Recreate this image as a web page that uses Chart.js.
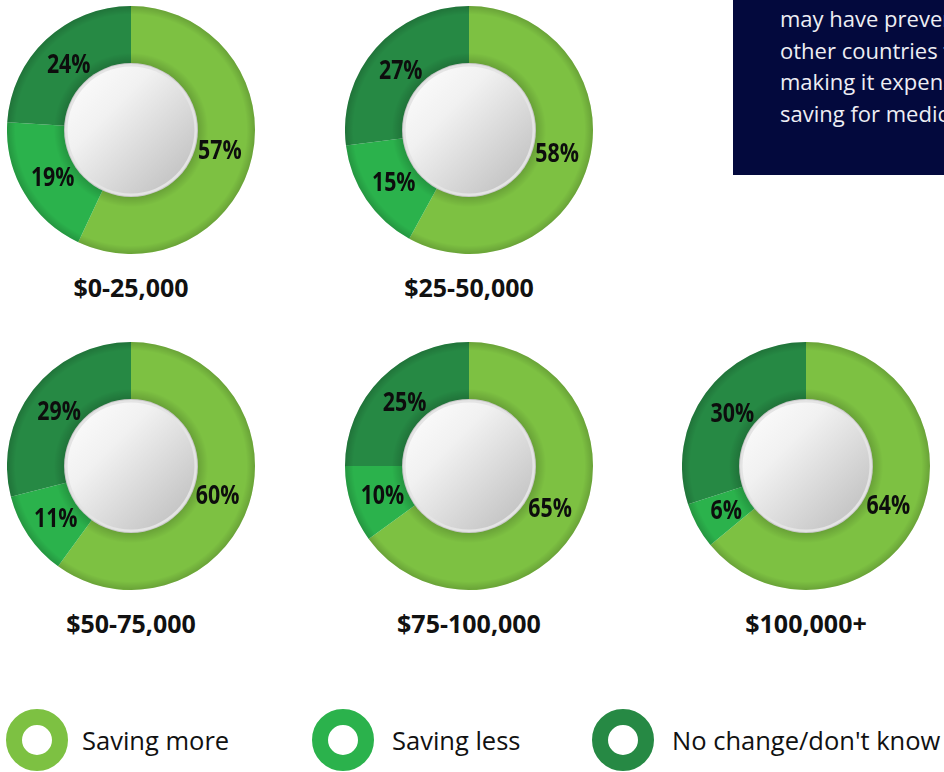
<!DOCTYPE html>
<html>
<head>
<meta charset="utf-8">
<script src="https://cdn.jsdelivr.net/npm/chart.js@4.4.1/dist/chart.umd.min.js"></script>
<style>
  html, body { margin: 0; padding: 0; background: #ffffff; }
  body { width: 944px; height: 772px; position: relative; overflow: hidden; font-family: "Open Sans", sans-serif; }
  canvas.donut { position: absolute; }
  .title { position: absolute; width: 260px; text-align: center; font-weight: 700; font-size: 25px; color: #111; line-height: 30px; }
  .box { position: absolute; left: 733px; top: 0; width: 211px; height: 175px; background: #03093d; overflow: hidden; }
  .box div { position: absolute; left: 47px; white-space: nowrap; color: #eeeef4; font-size: 22px; line-height: 26px; }
  .ring { position: absolute; top: 709px; width: 62px; height: 62px; border-radius: 50%; box-sizing: border-box; border: 16px solid; background: #fff; }
  .legtext { position: absolute; top: 724px; line-height: 32px; white-space: nowrap; font-size: 25.5px; color: #111; }
</style>
</head>
<body>
<div class="box">
  <div style="top:5px">may have prevented</div>
  <div style="top:37px">other countries from</div>
  <div style="top:68px">making it expensive</div>
  <div style="top:100px">saving for medical</div>
</div>
<script>
// ---- data ----
const groups = ['$0-25,000', '$25-50,000', '$50-75,000', '$75-100,000', '$100,000+'];
const seriesLabels = ['Saving more', 'Saving less', "No change/don't know"];
const savingMore = [57, 58, 60, 65, 64];
const savingLess = [19, 15, 11, 10, 6];
const noChange   = [24, 27, 29, 25, 30];

// ---- styling / layout ----
const colors = ['#7dc142', '#2bb24c', '#268944'];
const centers = [[131, 130], [469, 130], [131, 466], [469, 466], [806, 466]];
const SIZE = 248;

const decor = {
  id: 'decor',
  afterDatasetsDraw(chart) {
    const arc = chart.getDatasetMeta(0).data[0];
    const ctx = chart.ctx;
    const x = arc.x, y = arc.y, R = arc.outerRadius;
    const ri = R * 0.54;
    ctx.save();
    const g = ctx.createRadialGradient(x, y, ri, x, y, R);
    g.addColorStop(0, 'rgba(0,0,0,0.16)');
    g.addColorStop(0.18, 'rgba(0,0,0,0)');
    g.addColorStop(0.85, 'rgba(0,0,0,0)');
    g.addColorStop(1, 'rgba(0,0,0,0.16)');
    ctx.beginPath();
    ctx.arc(x, y, R, 0, Math.PI * 2);
    ctx.fillStyle = g;
    ctx.fill();
    ctx.beginPath();
    ctx.arc(x, y, ri, 0, Math.PI * 2);
    ctx.fillStyle = '#c9c9c9';
    ctx.fill();
    ctx.beginPath();
    ctx.arc(x, y, ri - 1, 0, Math.PI * 2);
    ctx.fillStyle = '#e4e4e4';
    ctx.fill();
    const lg = ctx.createLinearGradient(x - ri, y - ri, x + ri, y + ri);
    lg.addColorStop(0, '#ffffff');
    lg.addColorStop(0.35, '#f1f1f1');
    lg.addColorStop(1, '#b8b8b8');
    ctx.beginPath();
    ctx.arc(x, y, ri - 3.5, 0, Math.PI * 2);
    ctx.fillStyle = lg;
    ctx.fill();
    ctx.restore();
  },
  afterDraw(chart) {
    const ctx = chart.ctx;
    const ds = chart.data.datasets[0];
    const sx = 0.82;
    ctx.save();
    ctx.font = 'bold 26px "Open Sans", sans-serif';
    ctx.fillStyle = '#0d0d0d';
    ctx.textAlign = 'center';
    ctx.textBaseline = 'middle';
    chart.getDatasetMeta(0).data.forEach((a, i) => {
      const mid = (a.startAngle + a.endAngle) / 2;
      const r = (a.innerRadius + a.outerRadius) / 2 - 2;
      const px = a.x + Math.cos(mid) * r;
      const py = a.y + Math.sin(mid) * r;
      ctx.save();
      ctx.translate(px, py + 2);
      ctx.scale(sx, 1);
      ctx.fillText(ds.data[i] + '%', 0, 0);
      ctx.restore();
    });
    ctx.restore();
  }
};

groups.forEach((name, i) => {
  const [cx, cy] = centers[i];
  const cv = document.createElement('canvas');
  cv.className = 'donut';
  cv.width = SIZE; cv.height = SIZE;
  cv.style.left = (cx - SIZE / 2) + 'px';
  cv.style.top = (cy - SIZE / 2) + 'px';
  document.body.appendChild(cv);
  new Chart(cv, {
    type: 'doughnut',
    data: {
      labels: seriesLabels,
      datasets: [{
        data: [savingMore[i], savingLess[i], noChange[i]],
        backgroundColor: colors,
        borderWidth: 0
      }]
    },
    options: {
      responsive: false,
      animation: false,
      cutout: '50%',
      layout: { padding: 0 },
      plugins: { legend: { display: false }, tooltip: { enabled: false } }
    },
    plugins: [decor]
  });
  const t = document.createElement('div');
  t.className = 'title';
  t.textContent = name;
  t.style.left = (cx - 130) + 'px';
  t.style.top = (cy + 142) + 'px';
  document.body.appendChild(t);
});

const ringX = [6, 312, 592];
const textX = [82, 392, 672];
seriesLabels.forEach((s, i) => {
  const r = document.createElement('div');
  r.className = 'ring';
  r.style.left = ringX[i] + 'px';
  r.style.borderColor = colors[i];
  document.body.appendChild(r);
  const sp = document.createElement('div');
  sp.className = 'legtext';
  sp.style.left = textX[i] + 'px';
  sp.textContent = s;
  document.body.appendChild(sp);
});
</script>
</body>
</html>
